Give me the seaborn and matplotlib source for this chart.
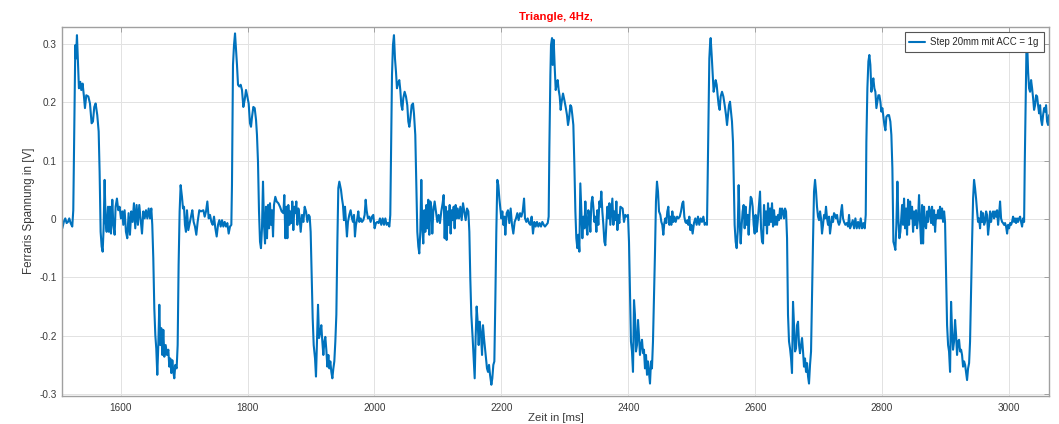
import matplotlib
matplotlib.use("Agg")
import matplotlib.pyplot as plt
import pandas as pd
import seaborn as sns

title_text = "Triangle, 4Hz,"
x_label = "Zeit in [ms]"
y_label = "Ferraris Spannung in [V]"
series_label = "Step 20mm mit ACC = 1g"
x_ticks = [1600, 1800, 2000, 2200, 2400, 2600, 2800, 3000]
y_ticks = [-0.3, -0.2, -0.1, 0.0, 0.1, 0.2, 0.3]
y_tick_labels = ["-0.3", "-0.2", "-0.1", "0", "0.1", "0.2", "0.3"]

# (time in ms, voltage in V)
seg_a = [(1508.0,-0.016),(1510.6,-0.004),(1512.7,0.001),(1514.8,-0.007),(1516.9,-0.005),(1519.0,0.001),(1521.1,-0.007),(1523.7,-0.013),(1525.3,0.015),(1526.9,0.161),(1528.5,0.298),(1529.5,0.275),(1531.1,0.315),(1532.7,0.270),(1534.2,0.224),(1536.3,0.235),(1537.9,0.221),(1540.0,0.232),(1542.1,0.210),(1543.7,0.190),(1545.8,0.212),(1549.0,0.210),(1551.6,0.198),(1554.2,0.164),(1556.3,0.167),(1558.4,0.192),(1560.5,0.198),(1563.1,0.178),(1565.3,0.150),(1566.8,0.081),(1568.4,-0.022),(1570.0,-0.047),(1571.6,-0.056),(1573.1,-0.016),(1574.7,0.067),(1576.3,-0.005),(1577.9,-0.022),(1580.0,0.021),(1581.5,-0.022),(1583.1,0.021),(1584.7,-0.025),(1586.8,0.033),(1588.4,-0.010),(1590.5,-0.027),(1592.0,0.021),(1594.1,0.035),(1596.2,0.015),(1598.3,0.021),(1600.4,0.001),(1602.5,0.013),(1604.1,-0.010),(1606.2,0.015),(1608.3,-0.022),(1610.4,-0.033),(1612.5,0.010),(1614.6,-0.027),(1616.7,0.013),(1618.8,-0.005),(1620.9,0.027),(1623.0,-0.016),(1625.1,0.024),(1627.2,-0.010),(1629.3,0.024),(1631.4,0.001),(1633.6,-0.025),(1635.7,0.013),(1637.8,0.001),(1639.9,0.015),(1642.0,0.001),(1644.1,0.018),(1646.2,0.001),(1648.3,0.018),(1649.8,-0.010),(1651.4,-0.067),(1653.0,-0.153),(1654.6,-0.199),(1656.1,-0.222),(1657.7,-0.267),(1659.3,-0.216),(1660.9,-0.147),(1662.4,-0.216),(1664.0,-0.187),(1665.6,-0.233),(1667.2,-0.190),(1668.8,-0.236),(1670.9,-0.216),(1673.0,-0.233),(1675.1,-0.224),(1676.6,-0.253),(1678.2,-0.239),(1679.8,-0.264),(1681.4,-0.242),(1683.0,-0.262),(1684.5,-0.273),(1686.1,-0.250),(1688.2,-0.256),(1689.8,-0.216),(1691.3,-0.079),(1692.9,0.013),(1694.5,0.058),(1696.6,0.038),(1698.2,0.018),(1699.8,0.021),(1701.3,-0.010),(1702.9,-0.022),(1704.5,0.015),(1706.6,-0.019),(1708.7,-0.007),(1710.8,0.004),(1712.9,0.015),(1715.0,-0.005),(1717.1,-0.013),(1719.2,-0.027),(1721.3,-0.005),(1723.9,0.015),(1726.5,0.013)]

seg_b = [(1730.3,0.015),(1732.4,0.004),(1734.5,0.013),(1736.6,0.030),(1738.7,0.001),(1740.8,0.007),(1742.9,-0.005),(1745.0,-0.010),(1747.1,0.004),(1749.2,-0.016),(1751.3,-0.030),(1753.4,-0.010),(1755.5,-0.002),(1757.6,-0.013),(1759.7,-0.002),(1761.8,-0.013),(1763.9,-0.005),(1766.0,-0.013),(1768.1,-0.007),(1770.2,-0.025),(1772.3,-0.013),(1774.4,-0.010),(1775.4,0.058),(1777.0,0.264),(1778.6,0.298),(1780.2,0.318),(1781.7,0.292),(1783.3,0.264),(1784.9,0.230),(1787.0,0.227),(1789.1,0.230),(1791.2,0.221),(1793.3,0.192),(1795.4,0.204),(1797.5,0.221),(1799.6,0.210),(1801.7,0.198),(1803.8,0.164),(1805.4,0.158),(1807.0,0.175),(1809.1,0.192),(1811.2,0.190),(1813.3,0.170),(1814.8,0.144),(1816.4,0.098),(1818.0,0.013),(1819.6,-0.039),(1821.1,-0.050),(1822.7,-0.016),(1824.3,0.064),(1825.9,-0.010),(1827.5,-0.042),(1829.0,0.021),(1830.6,-0.033),(1832.2,0.024),(1833.8,-0.016),(1835.3,0.027),(1836.9,-0.010),(1838.5,0.015),(1840.1,-0.030),(1841.6,0.024),(1843.7,0.038),(1845.8,0.030),(1848.5,0.027),(1851.1,0.021),(1853.7,0.013),(1856.4,0.010),(1857.9,0.041),(1859.5,-0.033),(1861.1,0.021),(1862.7,-0.033),(1864.2,0.024),(1865.8,-0.010),(1867.4,0.013),(1869.0,-0.007),(1870.5,0.030),(1872.1,-0.019),(1873.7,0.021),(1875.3,0.010),(1876.8,0.030),(1878.4,-0.010),(1880.0,0.018),(1881.6,0.007),(1883.7,-0.022),(1885.8,0.007),(1887.9,-0.005),(1890.0,0.021),(1892.1,0.013),(1894.2,-0.005),(1896.3,0.007),(1897.9,0.004),(1899.4,-0.022),(1901.0,-0.096),(1902.6,-0.170),(1904.2,-0.216),(1906.3,-0.239),(1907.8,-0.270),(1909.4,-0.210),(1911.0,-0.147),(1912.6,-0.204),(1914.7,-0.193),(1916.2,-0.182),(1917.8,-0.210),(1919.4,-0.233),(1921.0,-0.210),(1922.5,-0.202),(1924.1,-0.224),(1925.7,-0.253),(1927.3,-0.233),(1928.9,-0.256),(1930.4,-0.244),(1932.0,-0.262),(1933.6,-0.273),(1935.2,-0.256),(1936.7,-0.244),(1938.3,-0.210),(1939.9,-0.164),(1941.5,-0.039),(1943.0,0.053),(1944.6,0.064)]

seg_c = [(1947.2,0.050),(1948.8,0.035),(1950.3,0.024),(1951.9,-0.002),(1953.5,0.021),(1955.1,-0.005),(1956.6,-0.030),(1958.2,-0.005),(1960.3,0.007),(1962.4,0.015),(1964.5,0.001),(1966.1,-0.005),(1967.7,0.007),(1969.2,-0.030),(1970.8,-0.010),(1972.9,0.001),(1974.5,0.013),(1976.1,-0.005),(1978.2,0.001),(1980.3,-0.005),(1982.4,-0.002),(1984.5,0.007),(1986.1,0.033),(1987.6,0.015),(1989.7,0.001),(1991.8,0.004),(1993.9,-0.005),(1996.0,0.004),(1998.1,0.007),(2000.2,-0.016),(2002.3,-0.007),(2004.4,-0.005),(2006.5,-0.007),(2008.6,0.001),(2010.7,-0.010),(2012.9,0.001),(2015.0,-0.010),(2017.1,0.001),(2019.2,-0.010),(2021.3,-0.007),(2023.4,-0.013),(2024.9,0.007),(2026.0,0.104),(2027.6,0.247),(2029.1,0.298),(2030.7,0.315),(2032.3,0.275),(2033.9,0.252),(2035.4,0.224),(2037.0,0.232),(2039.1,0.238),(2040.7,0.221),(2042.3,0.195),(2043.9,0.187),(2045.4,0.207),(2047.5,0.218),(2049.6,0.210),(2051.7,0.195),(2053.3,0.167),(2054.9,0.158),(2056.5,0.172),(2058.6,0.195),(2060.7,0.198),(2062.2,0.181),(2064.3,0.144),(2065.9,0.058),(2067.5,-0.022),(2069.1,-0.047),(2070.6,-0.059),(2072.2,-0.022),(2073.8,0.067),(2075.4,-0.016),(2076.9,-0.042),(2078.5,0.015),(2080.1,-0.022),(2081.7,0.024),(2083.2,-0.016),(2084.8,0.033),(2086.4,-0.027),(2088.0,0.030),(2089.6,0.021),(2091.1,-0.025),(2092.7,0.013),(2094.8,0.030),(2096.9,0.013),(2099.0,-0.005),(2101.1,0.007),(2103.2,-0.007),(2105.3,0.013),(2107.4,0.027),(2109.0,0.041),(2110.6,-0.033),(2112.2,0.021),(2113.7,-0.036),(2115.3,0.013),(2116.9,-0.010),(2118.5,0.024),(2120.0,-0.025),(2121.6,0.015),(2123.2,-0.002),(2124.8,0.021),(2126.3,-0.016),(2127.9,0.024),(2129.5,0.001),(2131.1,0.018),(2133.2,0.001),(2135.3,0.021),(2137.4,-0.002),(2139.5,0.027),(2141.6,0.013),(2143.7,-0.002),(2145.8,0.018),(2147.9,0.013),(2149.5,-0.022),(2151.0,-0.102),(2152.6,-0.164),(2154.7,-0.204),(2156.3,-0.239),(2157.9,-0.273),(2159.4,-0.204),(2161.0,-0.150),(2162.6,-0.176),(2164.2,-0.216),(2165.8,-0.176)]

seg_d = [(2167.9,-0.199),(2169.5,-0.233),(2171.0,-0.182),(2172.6,-0.204),(2174.2,-0.222),(2175.8,-0.239),(2177.3,-0.256),(2178.9,-0.262),(2180.5,-0.250),(2182.1,-0.267),(2184.2,-0.284),(2185.7,-0.273),(2187.3,-0.250),(2188.9,-0.244),(2190.5,-0.136),(2192.0,-0.022),(2193.6,0.067),(2195.2,0.058),(2196.8,0.035),(2198.4,0.018),(2199.9,0.001),(2201.5,0.013),(2203.1,-0.010),(2204.7,0.004),(2206.2,-0.027),(2208.3,0.010),(2210.4,0.015),(2212.5,-0.007),(2214.6,0.018),(2216.7,-0.010),(2218.8,-0.025),(2220.9,-0.005),(2223.0,0.001),(2225.1,0.010),(2227.2,-0.002),(2229.4,0.010),(2231.5,0.004),(2233.6,0.013),(2235.7,0.035),(2237.2,0.001),(2239.3,-0.005),(2241.4,0.001),(2243.5,-0.007),(2245.6,-0.010),(2247.7,0.004),(2249.8,-0.025),(2251.9,-0.005),(2254.0,-0.013),(2256.1,-0.005),(2258.2,-0.013),(2260.3,-0.007),(2262.4,-0.013),(2264.5,-0.005),(2266.7,-0.010),(2268.7,-0.013),(2270.9,-0.010),(2273.0,-0.007),(2274.5,0.004),(2275.6,0.121),(2277.2,0.247),(2278.2,0.298),(2279.8,0.310),(2280.8,0.264),(2282.4,0.307),(2284.0,0.261),(2285.6,0.221),(2287.1,0.230),(2288.7,0.238),(2290.3,0.221),(2291.9,0.210),(2293.4,0.187),(2295.0,0.201),(2297.1,0.215),(2299.2,0.204),(2301.3,0.192),(2303.4,0.178),(2305.0,0.161),(2306.6,0.172),(2308.7,0.195),(2310.3,0.192),(2311.8,0.178),(2313.4,0.161),(2315.0,0.093),(2316.6,0.013),(2318.1,-0.033),(2319.7,-0.050),(2321.3,-0.027),(2322.9,-0.056),(2324.4,0.061),(2326.0,0.013),(2327.6,-0.033),(2329.2,0.004),(2330.8,-0.016),(2332.3,0.030),(2333.9,-0.010),(2335.5,-0.027),(2337.1,0.015),(2338.6,0.004),(2340.2,-0.022),(2341.8,0.027),(2343.4,0.038),(2344.9,0.021),(2346.5,-0.005),(2348.1,0.004),(2349.7,-0.022),(2351.2,0.015),(2352.8,-0.010),(2354.4,0.030),(2356.0,0.021),(2357.5,0.047),(2359.1,0.013),(2360.7,-0.010),(2362.3,-0.039),(2363.8,-0.045),(2365.4,-0.010),(2367.0,0.021),(2368.6,0.001),(2370.2,0.027),(2371.7,-0.010),(2373.3,0.013),(2374.9,0.035),(2376.5,-0.010),(2378.0,0.013),(2379.6,-0.002),(2381.2,0.030),(2382.8,-0.019),(2384.3,0.007),(2385.9,-0.007),(2387.5,0.021)]

seg_e = [(2391.1,0.018),(2393.2,-0.005),(2395.3,0.007),(2397.4,0.004),(2399.5,0.007),(2401.1,-0.039),(2402.7,-0.125),(2404.2,-0.210),(2405.8,-0.227),(2407.4,-0.262),(2409.0,-0.139),(2410.5,-0.164),(2412.1,-0.227),(2413.7,-0.216),(2415.3,-0.173),(2416.8,-0.199),(2418.4,-0.233),(2420.0,-0.216),(2421.6,-0.207),(2423.2,-0.230),(2424.7,-0.224),(2426.3,-0.256),(2427.9,-0.233),(2429.5,-0.267),(2431.0,-0.244),(2432.6,-0.264),(2434.2,-0.282),(2435.8,-0.244),(2437.3,-0.256),(2438.9,-0.210),(2440.5,-0.136),(2442.1,-0.056),(2443.6,0.030),(2445.2,0.064),(2446.8,0.047),(2448.4,0.013),(2450.5,0.007),(2452.1,-0.005),(2453.6,-0.010),(2455.2,-0.027),(2456.8,-0.007),(2458.4,0.001),(2459.9,-0.007),(2461.5,0.013),(2463.1,0.021),(2464.7,-0.010),(2466.3,0.004),(2467.8,-0.010),(2469.4,0.013),(2471.0,-0.005),(2472.7,0.004),(2474.7,-0.005),(2476.9,0.004),(2479.0,0.001),(2481.1,0.004),(2483.1,0.013),(2485.2,0.027),(2486.7,0.030),(2488.3,0.004),(2489.9,-0.005),(2491.5,-0.007),(2493.0,-0.002),(2494.6,-0.010),(2496.2,0.004),(2497.8,-0.019),(2499.3,-0.010),(2501.4,-0.025),(2503.5,-0.007),(2505.6,0.001),(2507.7,-0.010),(2509.8,0.004),(2511.9,-0.010),(2514.0,0.001),(2516.1,-0.005),(2518.3,0.004),(2520.4,-0.010),(2522.5,-0.007),(2524.0,-0.010),(2525.1,0.070),(2526.7,0.201),(2527.7,0.275),(2528.8,0.298),(2529.8,0.310),(2531.4,0.281),(2533.0,0.247),(2534.5,0.218),(2536.1,0.227),(2537.7,0.238),(2539.3,0.230),(2540.8,0.212),(2542.4,0.195),(2544.0,0.187),(2545.6,0.210),(2547.7,0.218),(2549.8,0.210),(2551.9,0.195),(2554.0,0.178),(2555.6,0.161),(2557.1,0.178),(2558.7,0.195),(2560.3,0.201),(2561.9,0.184),(2563.4,0.167),(2565.0,0.132),(2566.1,0.075),(2567.6,-0.010),(2569.2,-0.039),(2570.8,-0.050),(2572.4,-0.022),(2573.9,0.058),(2575.5,-0.005),(2577.1,-0.042),(2578.7,-0.010),(2580.2,0.013),(2581.8,0.024),(2583.4,-0.016),(2585.0,0.021),(2586.5,-0.010),(2588.1,0.007),(2589.7,-0.027),(2591.3,0.013),(2592.9,0.038),(2594.4,0.035),(2596.0,0.021),(2597.6,-0.010),(2599.2,-0.025),(2600.7,0.007),(2602.3,-0.022),(2603.9,-0.005),(2605.5,0.018)]

seg_f = [(2607.6,0.047),(2609.2,-0.016),(2610.8,-0.039),(2612.3,-0.042),(2613.9,0.024),(2615.5,-0.010),(2617.1,0.013),(2618.6,-0.025),(2620.2,0.027),(2621.8,-0.010),(2623.4,0.018),(2624.9,-0.005),(2626.5,0.027),(2628.1,-0.013),(2629.7,0.015),(2631.2,-0.010),(2632.8,0.004),(2634.4,-0.010),(2636.0,0.007),(2637.5,-0.002),(2639.1,0.018),(2640.7,0.001),(2642.3,0.018),(2643.9,0.013),(2645.4,0.001),(2647.0,0.018),(2648.6,0.013),(2650.2,-0.033),(2651.7,-0.164),(2653.3,-0.210),(2654.9,-0.222),(2656.5,-0.239),(2658.0,-0.264),(2659.6,-0.142),(2661.2,-0.182),(2662.8,-0.227),(2664.3,-0.222),(2665.9,-0.182),(2667.5,-0.176),(2669.1,-0.216),(2670.6,-0.230),(2672.2,-0.216),(2673.8,-0.204),(2675.4,-0.227),(2676.9,-0.253),(2678.5,-0.239),(2680.1,-0.262),(2681.7,-0.247),(2683.3,-0.270),(2684.8,-0.282),(2686.4,-0.250),(2688.0,-0.227),(2689.6,-0.125),(2691.1,-0.039),(2692.7,0.047),(2694.3,0.067),(2695.9,0.047),(2697.4,0.021),(2699.0,0.004),(2700.6,-0.002),(2702.2,0.013),(2703.7,0.001),(2705.3,-0.025),(2706.9,-0.010),(2708.5,0.007),(2710.0,0.001),(2711.6,0.021),(2713.2,0.001),(2714.8,-0.010),(2716.4,0.004),(2717.9,-0.025),(2719.5,-0.010),(2721.1,0.004),(2722.7,-0.005),(2724.2,0.010),(2725.8,0.007),(2727.4,0.001),(2729.0,0.007),(2730.5,-0.005),(2732.1,-0.010),(2733.7,-0.005),(2735.3,0.013),(2736.8,0.024),(2738.4,0.001),(2740.0,-0.005),(2742.1,-0.010),(2744.2,-0.007),(2746.3,-0.013),(2747.9,0.007),(2749.5,-0.016),(2751.6,-0.010),(2753.7,-0.002),(2755.8,-0.016),(2757.9,0.001),(2760.0,-0.016),(2762.1,-0.005),(2764.2,-0.016),(2766.3,0.001),(2768.4,-0.016),(2770.5,-0.007),(2772.6,-0.016),(2774.2,0.007),(2775.2,0.132),(2776.8,0.224),(2778.4,0.270),(2779.9,0.281),(2781.5,0.264),(2783.1,0.218),(2784.7,0.232),(2786.2,0.241),(2787.8,0.224),(2789.4,0.218),(2791.0,0.190),(2792.5,0.201),(2794.1,0.212),(2795.7,0.212),(2797.3,0.201),(2798.8,0.184),(2800.4,0.190),(2802.0,0.175),(2803.6,0.161),(2805.2,0.152),(2806.7,0.175),(2808.8,0.178),(2810.9,0.178),(2813.0,0.167),(2814.6,0.144),(2816.2,0.087),(2817.8,-0.039),(2819.3,-0.045),(2820.9,-0.053),(2822.5,-0.010),(2824.1,0.064),(2825.6,0.001),(2827.2,-0.033),(2828.8,-0.022)]

seg_g = [(2831.5,0.024),(2833.0,-0.010),(2834.6,0.035),(2836.2,-0.016),(2837.8,0.018),(2839.3,-0.027),(2840.9,0.033),(2842.5,-0.010),(2844.1,0.030),(2845.6,0.001),(2847.2,0.021),(2848.8,-0.022),(2850.4,0.013),(2851.9,-0.010),(2853.5,0.015),(2855.1,-0.016),(2856.7,0.001),(2858.2,0.041),(2859.8,-0.005),(2861.4,-0.042),(2863.0,0.024),(2864.6,-0.042),(2866.1,0.021),(2867.7,-0.010),(2869.3,-0.016),(2870.9,0.013),(2872.4,-0.005),(2874.0,0.021),(2875.6,0.013),(2877.2,-0.007),(2878.7,0.021),(2880.3,-0.010),(2881.9,0.015),(2883.5,-0.022),(2885.0,0.007),(2886.6,0.001),(2888.2,0.015),(2889.8,0.001),(2891.3,0.021),(2892.9,0.001),(2894.5,0.018),(2896.1,-0.005),(2897.7,0.013),(2899.2,-0.005),(2900.8,-0.096),(2902.4,-0.182),(2904.0,-0.216),(2905.5,-0.227),(2907.1,-0.262),(2908.7,-0.142),(2910.3,-0.193),(2911.8,-0.224),(2913.4,-0.210),(2915.0,-0.173),(2916.6,-0.199),(2918.1,-0.233),(2919.7,-0.210),(2921.3,-0.207),(2922.9,-0.227),(2924.5,-0.224),(2926.0,-0.233),(2927.6,-0.253),(2929.2,-0.244),(2930.8,-0.250),(2932.3,-0.262),(2933.9,-0.276),(2935.5,-0.256),(2937.1,-0.247),(2938.6,-0.210),(2940.2,-0.125),(2941.8,-0.039),(2943.4,0.035),(2944.9,0.067),(2946.5,0.053),(2948.1,0.035),(2949.7,0.013),(2951.2,-0.005),(2952.8,0.001),(2954.4,-0.016),(2956.0,0.013),(2957.6,-0.005),(2959.1,0.010),(2960.7,-0.010),(2962.3,-0.005),(2963.9,0.013),(2965.4,0.007),(2967.0,-0.027),(2968.6,-0.010),(2970.2,0.013),(2971.7,-0.005),(2973.3,0.007),(2974.9,0.013),(2976.5,0.001),(2978.0,0.013),(2979.6,0.004),(2981.2,0.015),(2982.8,-0.010),(2984.3,0.007),(2985.9,0.030),(2987.5,0.001),(2989.1,-0.005),(2990.7,-0.007),(2992.2,-0.010),(2993.8,-0.007),(2995.4,-0.013),(2997.0,-0.025),(2998.5,-0.010),(3000.1,-0.016),(3001.7,-0.007),(3003.3,-0.010),(3004.8,-0.005),(3006.4,0.004),(3008.0,-0.005),(3009.6,0.001),(3011.1,-0.007),(3012.7,0.001),(3014.3,-0.005),(3015.9,0.001),(3017.5,0.004),(3019.0,-0.005),(3020.6,-0.013),(3022.2,0.001),(3023.8,-0.005),(3024.8,0.093),(3026.4,0.212),(3027.4,0.285),(3028.3,0.312),(3029.2,0.281),(3030.1,0.252),(3031.6,0.224),(3033.2,0.218),(3034.8,0.238),(3036.4,0.224),(3038.0,0.207),(3039.5,0.187),(3041.1,0.195),(3042.7,0.212),(3044.3,0.210),(3045.8,0.195),(3047.4,0.181),(3049.0,0.195),(3050.6,0.170),(3052.1,0.161),(3053.7,0.178),(3055.3,0.190),(3056.9,0.184),(3058.4,0.195),(3060.0,0.167),(3061.6,0.161),(3063.2,0.178)]

segments = [seg_a, seg_b, seg_c, seg_d, seg_e, seg_f, seg_g]
time_ms = [p[0] for s in segments for p in s]
volt = [p[1] for s in segments for p in s]
df = pd.DataFrame({"t": time_ms, "v": volt})

sns.set_style("whitegrid", {
    "grid.color": "#e2e2e2",
    "axes.edgecolor": "#a0a0a0",
})
plt.rcParams["font.family"] = ["Liberation Sans", "DejaVu Sans"]
plt.rcParams["axes.unicode_minus"] = False

fig = plt.figure(figsize=(10.59, 4.24), dpi=100)
ax = fig.add_axes([0.05883, 0.06675, 0.93201, 0.87028])

sns.lineplot(data=df, x="t", y="v", ax=ax, sort=False, estimator=None,
             color="#0072BD", linewidth=1.5, label=series_label)

ax.set_xlim(1508, 3063.5)
ax.set_ylim(-0.3028, 0.3295)
ax.set_xticks(x_ticks)
ax.set_xticklabels([str(v) for v in x_ticks])
ax.set_yticks(y_ticks)
ax.set_yticklabels(y_tick_labels)
ax.grid(True, color="#e2e2e2", linewidth=0.7)
for sp in ax.spines.values():
    sp.set_visible(True)
    sp.set_color("#a0a0a0")
    sp.set_linewidth(1.0)
ax.tick_params(axis="both", direction="in", length=3.5, width=0.7,
               color="#a0a0a0", labelcolor="#3a3a3a", labelsize=7.2,
               top=True, right=True)
ax.tick_params(axis="x", pad=5)
ax.tick_params(axis="y", pad=4)

ax.set_title(title_text, color="#ff0000", fontweight="bold", fontsize=8.2, pad=5)
ax.set_xlabel(x_label, fontsize=8.2, color="#3a3a3a", labelpad=0)
ax.set_ylabel(y_label, fontsize=8.4, color="#3a3a3a", labelpad=3)

leg = ax.legend(loc="upper right", fontsize=6.9, frameon=True, fancybox=False,
                framealpha=1.0, facecolor="white", edgecolor="#555555",
                borderaxespad=0.6, handlelength=1.6, handletextpad=0.6,
                borderpad=0.5)
leg.get_frame().set_linewidth(0.8)
for txt in leg.get_texts():
    txt.set_color("#262626")

fig.savefig("out.png", dpi=100)
